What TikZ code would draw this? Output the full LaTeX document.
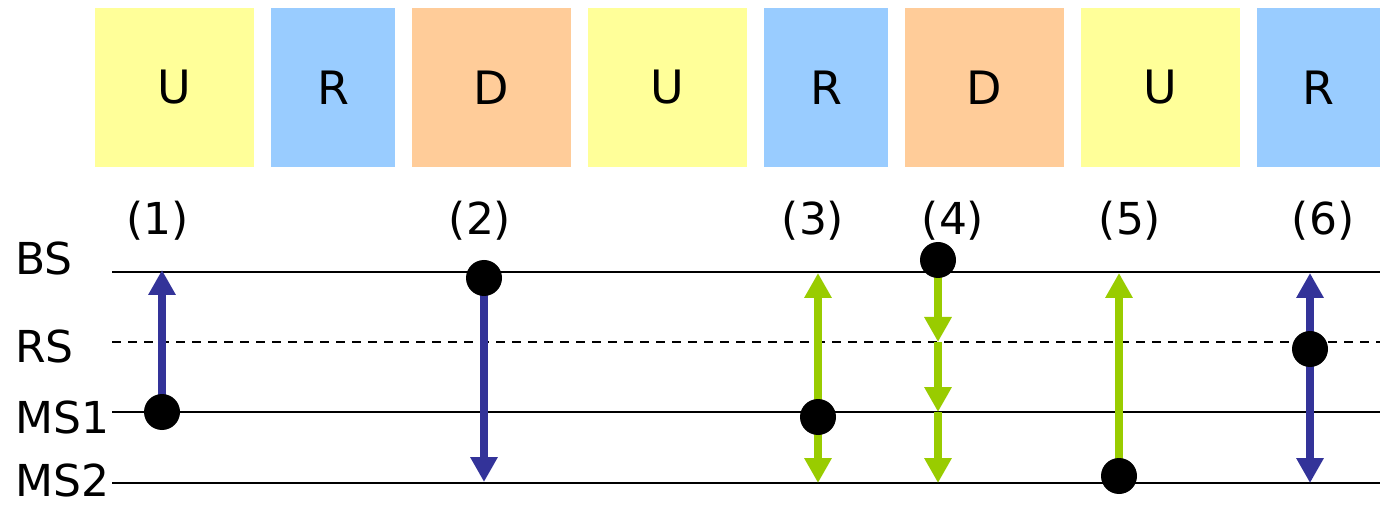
\documentclass[tikz,border=0pt]{standalone}
\usepackage{fontspec}
\setmainfont{DejaVu Sans}
\usetikzlibrary{arrows.meta}
\definecolor{ylw}{HTML}{FFFF99}
\definecolor{lblue}{HTML}{99CCFF}
\definecolor{org}{HTML}{FFCC99}
\definecolor{grn}{HTML}{99CC00}
\definecolor{dblue}{HTML}{333399}
\pgfdeclarelayer{bg}
\pgfdeclarelayer{mid}
\pgfsetlayers{bg,mid,main}
\begin{document}
\begin{tikzpicture}[x=0.5pt,y=-0.5pt,
  slot/.style={minimum height=79.5pt, inner sep=0pt, font=\fontsize{23}{27}\selectfont},
  wide/.style={slot, minimum width=79.5pt},
  narrow/.style={slot, minimum width=62pt},
  lvl/.style={anchor=base west, inner sep=0pt, font=\fontsize{22}{26}\selectfont},
  num/.style={anchor=base, inner sep=0pt, font=\fontsize{22}{26}\selectfont},
  dot/.style={circle, fill=black, minimum size=18pt, inner sep=0pt},
  track/.style={line width=1pt},
  msg/.style={line width=4pt, -{Triangle[width=13pt,length=12.5pt]}},
  bimsg/.style={line width=4pt, {Triangle[width=13pt,length=12.5pt]}-{Triangle[width=13pt,length=12.5pt]}},
]
\useasboundingbox (0,0) rectangle (1380,507);

% frame slots
\node[wide, fill=ylw]    (s1) at (174.4,87.5) {U};
\node[narrow, fill=lblue] (s2) at (333,87.5) {R};
\node[wide, fill=org]    (s3) at (491.5,87.5) {D};
\node[wide, fill=ylw]    (s4) at (667,87.5) {U};
\node[narrow, fill=lblue] (s5) at (826,87.5) {R};
\node[wide, fill=org]    (s6) at (984.5,87.5) {D};
\node[wide, fill=ylw]    (s7) at (1160.5,87.5) {U};
\node[slot, minimum width=61.5pt, fill=lblue] (s8) at (1318.5,87.5) {R};

% station labels
\node[lvl] (lBS)  at (15,275) {BS};
\node[lvl] (lRS)  at (15,363) {RS};
\node[lvl] (lMS1) at (15,433) {MS1};
\node[lvl] (lMS2) at (15,496) {MS2};

% step numbers
\node[num] (n1) at (158,235) {(1)};
\node[num] (n2) at (480,235) {(2)};
\node[num] (n3) at (813,235) {(3)};
\node[num] (n4) at (953,235) {(4)};
\node[num] (n5) at (1130,235) {(5)};
\node[num] (n6) at (1323,235) {(6)};

% tracks
\coordinate (bsA) at (112,272);  \coordinate (bsB) at (1380,272);
\coordinate (rsA) at (112,342);  \coordinate (rsB) at (1380,342);
\coordinate (m1A) at (112,412);  \coordinate (m1B) at (1380,412);
\coordinate (m2A) at (112,483);  \coordinate (m2B) at (1380,483);
\begin{pgfonlayer}{bg}
\draw[track] (bsA) -- (bsB);
\draw[track, dash pattern=on 4.5pt off 3.5pt] (rsA) -- (rsB);
\draw[track] (m1A) -- (m1B);
\draw[track] (m2A) -- (m2B);
\end{pgfonlayer}

% dots (senders)
\node[dot] (d1) at (162,412) {};
\node[dot] (d2) at (484,278) {};
\node[dot] (d3) at (818,417) {};
\node[dot] (d4) at (938,260) {};
\node[dot] (d5) at (1119,476) {};
\node[dot] (d6) at (1310,349) {};

% arrow end points
\coordinate (t1) at (162,270);
\coordinate (t2) at (484,482);
\coordinate (t3a) at (818,273);
\coordinate (t3b) at (818,483);
\coordinate (t4a) at (938,342);
\coordinate (t4b) at (938,412);
\coordinate (t4c) at (938,483);
\coordinate (t5) at (1119,273);
\coordinate (t6a) at (1310,273);
\coordinate (t6b) at (1310,483);

\begin{pgfonlayer}{mid}
\draw[msg, dblue] (d1.center) -- (t1);
\draw[msg, dblue] (d2.center) -- (t2);
\draw[bimsg, grn] (t3a) -- (t3b);
\draw[msg, grn] (d4.center) -- (t4a);
\draw[msg, grn] (t4a) -- (t4b);
\draw[msg, grn] (t4b) -- (t4c);
\draw[msg, grn] (d5.center) -- (t5);
\draw[bimsg, dblue] (t6a) -- (t6b);
\end{pgfonlayer}
\end{tikzpicture}
\end{document}
